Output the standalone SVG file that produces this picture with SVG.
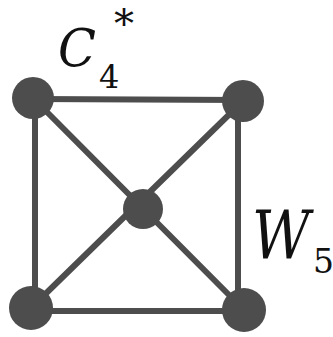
<svg xmlns="http://www.w3.org/2000/svg" width="333" height="337" viewBox="0 0 333 337">
<style>
.e{stroke:#4d4d4d;stroke-width:6;stroke-linecap:round;fill:none}
.n{fill:#4d4d4d}
.t{font-family:"DejaVu Serif",serif;font-style:italic;fill:#111}
.d{font-family:"DejaVu Serif",serif;fill:#111}
</style>
<rect width="333" height="337" fill="#fff"/>
<g id="connectors">
<line class="e" x1="33" y1="99" x2="243" y2="100"/>
<line class="e" x1="31" y1="311" x2="244" y2="311"/>
<line class="e" x1="35" y1="98" x2="35" y2="308"/>
<line class="e" x1="238" y1="101" x2="238" y2="310"/>
<line class="e" x1="33" y1="98" x2="244" y2="310"/>
<line class="e" x1="243" y1="101" x2="31" y2="308"/>
</g>
<g id="n1"><circle class="n" cx="33" cy="98" r="21"/></g>
<g id="n2"><circle class="n" cx="243" cy="101" r="21"/></g>
<g id="n3"><circle class="n" cx="143" cy="209" r="20"/></g>
<g id="n4"><circle class="n" cx="31" cy="308" r="22"/></g>
<g id="n5"><circle class="n" cx="244" cy="310" r="22"/></g>
<g id="label-c4">
<text class="t" x="58" y="66" font-size="53" textLength="38" lengthAdjust="spacingAndGlyphs">C</text>
<text class="d" x="99" y="88" font-size="32">4</text>
<text class="d" x="114" y="37" font-size="40">*</text>
</g>
<g id="label-w5">
<text class="t" x="252" y="259" font-size="68" textLength="58" lengthAdjust="spacingAndGlyphs">W</text>
<text class="d" x="313" y="273" font-size="33">5</text>
</g>
</svg>
